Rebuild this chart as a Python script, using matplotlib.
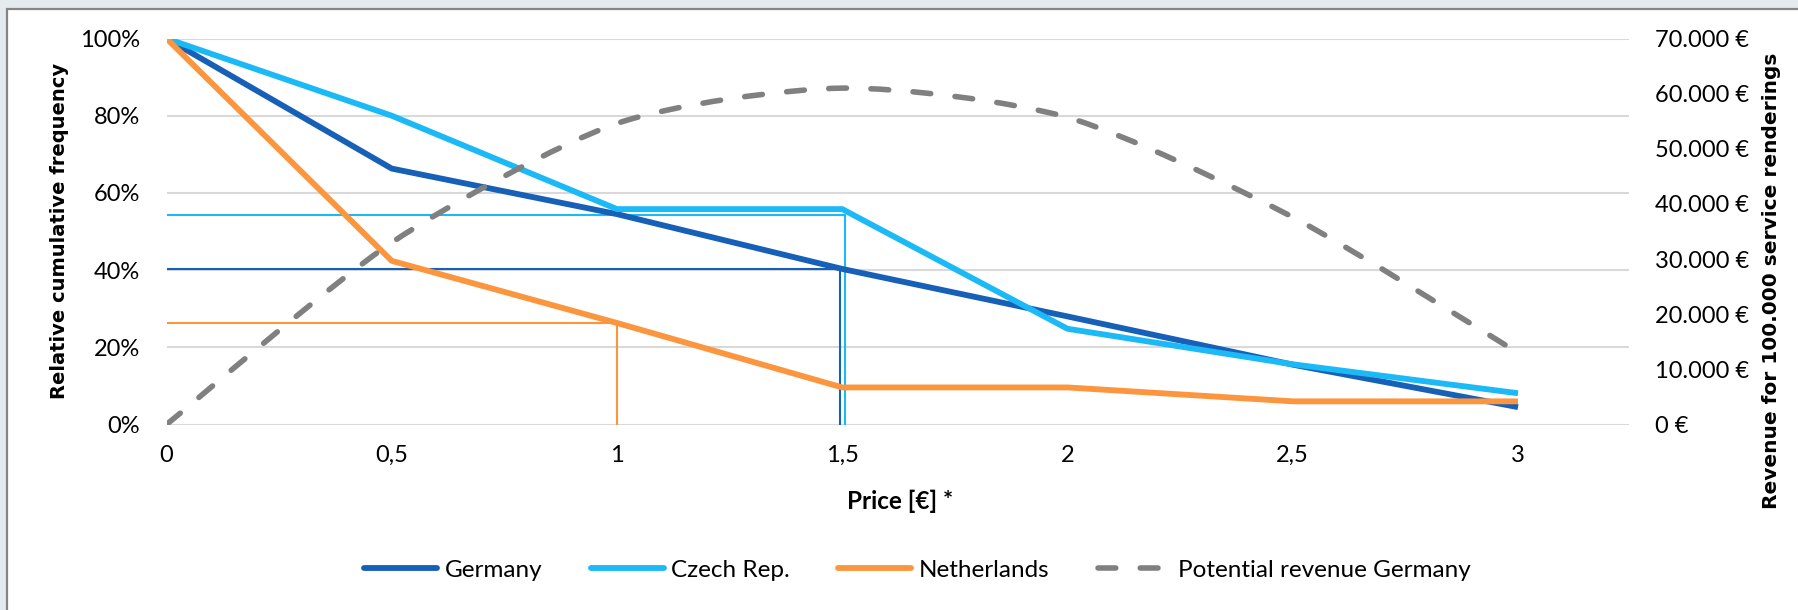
import numpy as np
import matplotlib
matplotlib.use("Agg")
import matplotlib.pyplot as plt
from matplotlib.path import Path
from matplotlib.patches import PathPatch, Rectangle
from matplotlib.lines import Line2D

# -------------------------------
# Price / willingness-to-pay data
# -------------------------------
price = [0, 0.5, 1, 1.5, 2, 2.5, 3]
price_labels = ["0", "0,5", "1", "1,5", "2", "2,5", "3"]

germany     = [1.00, 0.663, 0.545, 0.403, 0.280, 0.155, 0.045]
czech       = [1.00, 0.800, 0.558, 0.558, 0.248, 0.156, 0.081]
netherlands = [1.00, 0.424, 0.263, 0.096, 0.096, 0.060, 0.060]

# revenue for 100.000 service renderings (Germany)
revenue = [0, 33000, 54600, 61000, 55700, 37600, 13000]

# optimal price markers: (price, share)
opt_germany     = (1.495, 0.403)
opt_czech       = (1.505, 0.544)
opt_netherlands = (1.0, 0.263)

pct_ticks = [0, 0.2, 0.4, 0.6, 0.8, 1.0]
eur_ticks = [0, 10000, 20000, 30000, 40000, 50000, 60000, 70000]

C_DE = "#1660b8"
C_CZ = "#1bb9f6"
C_NL = "#fb963f"
C_REV = "#808080"
DASH = (0, (3.2, 4.4))
FS = 17
SMOOTH = 1 / 8   # tangent factor for the smoothed curve

plt.rcParams["font.family"] = ["Lato", "DejaVu Sans"]

W, H = 1799, 610
fig = plt.figure(figsize=(W / 100, H / 100), dpi=100)
fig.patch.set_facecolor("#e4ebee")

# white chart area with grey frame
fig.patches.append(Rectangle((7.3 / W, -0.1), 1.2, 1.1 - 9.3 / H,
                             transform=fig.transFigure, facecolor="white",
                             edgecolor="#858585", linewidth=1.6, zorder=-5))

left, right, top, bottom = 166.5, 1629, 38.5, 424.5
ax = fig.add_axes([left / W, 1 - bottom / H, (right - left) / W, (bottom - top) / H])
ax.patch.set_alpha(0)
ax2 = ax.twinx()

ax.set_xlim(0, 3 * (right - left) / (1518 - left))
ax.set_ylim(0, 1)
ax2.set_ylim(0, 70000)

ax.grid(axis="y", color="#d9d9d9", linewidth=1.5)
ax.set_axisbelow(True)

# optimal price guide lines
for (xv, yv), c in [(opt_netherlands, C_NL), (opt_germany, C_DE), (opt_czech, C_CZ)]:
    ax.plot([0, xv, xv], [yv, yv, 0], color=c, linewidth=1.5, zorder=2)

for vals, c in [(germany, C_DE), (czech, C_CZ), (netherlands, C_NL)]:
    ax.plot(price, vals, color=c, linewidth=4.2, solid_joinstyle="round",
            solid_capstyle="butt", zorder=3)

# smoothed revenue curve as cubic bezier segments through the points
pts = np.column_stack([price, revenue]).astype(float)
n = len(pts)
verts = [pts[0]]
codes = [Path.MOVETO]
for i in range(n - 1):
    p0 = pts[max(i - 1, 0)]
    p1 = pts[i]
    p2 = pts[i + 1]
    p3 = pts[min(i + 2, n - 1)]
    verts += [p1 + (p2 - p0) * SMOOTH, p2 - (p3 - p1) * SMOOTH, p2]
    codes += [Path.CURVE4] * 3
rev_patch = PathPatch(Path(verts, codes), fill=False, edgecolor=C_REV,
                      linewidth=4.0, linestyle=DASH, capstyle="round")
ax2.add_patch(rev_patch)

ax.set_xticks(price)
ax.set_xticklabels(price_labels)
ax.set_yticks(pct_ticks)
ax.set_yticklabels([f"{int(round(v * 100))}%" for v in pct_ticks])
ax2.set_yticks(eur_ticks)
ax2.set_yticklabels([f"{v:,}".replace(",", ".") + " €" for v in eur_ticks])

ax.tick_params(axis="x", length=0, pad=15, labelsize=FS)
ax.tick_params(axis="y", length=0, pad=19, labelsize=FS)
ax2.tick_params(axis="y", length=0, pad=19, labelsize=FS)
for a in (ax, ax2):
    for s in a.spines.values():
        s.set_visible(False)

fig.text(60 / W, 1 - 231 / H, "Relative cumulative frequency", rotation=90,
         ha="center", va="center", fontsize=14, fontweight="bold",
         family="DejaVu Sans")
fig.text(1772 / W, 1 - 281 / H, "Revenue for 100.000 service renderings",
         rotation=90, ha="center", va="center", fontsize=14.5,
         fontweight="bold", family="DejaVu Sans")
fig.text(900 / W, 1 - 501 / H, "Price [€] *", ha="center", va="center",
         fontsize=17.5, fontweight="bold")

handles = [
    Line2D([], [], color=C_DE, linewidth=4.2, solid_capstyle="round"),
    Line2D([], [], color=C_CZ, linewidth=4.2, solid_capstyle="round"),
    Line2D([], [], color=C_NL, linewidth=4.2, solid_capstyle="round"),
    Line2D([], [], color=C_REV, linewidth=4.0, linestyle=DASH, dash_capstyle="round"),
]
labels = ["Germany", "Czech Rep.", "Netherlands", "Potential revenue Germany"]
fig.legend(handles, labels, loc="center", bbox_to_anchor=(0.51, 1 - 570 / H),
           ncol=4, frameon=False, fontsize=17.5, handlelength=3.0,
           handletextpad=0.3, columnspacing=2.0)

fig.savefig("out.png", dpi=100, facecolor=fig.get_facecolor())
